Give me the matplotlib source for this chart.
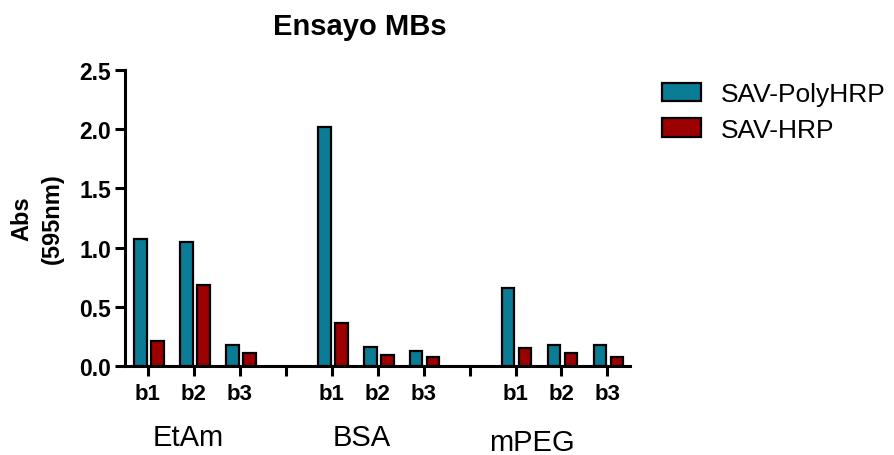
import numpy as np
import matplotlib
matplotlib.use("Agg")
import matplotlib.pyplot as plt

plt.rcParams["font.family"] = ["Liberation Sans", "DejaVu Sans"]

# data
groups = ["EtAm", "BSA", "mPEG"]
subs = ["b1", "b2", "b3"]
series_names = ["SAV-PolyHRP", "SAV-HRP"]
poly_hrp = [1.07, 1.05, 0.18, 2.02, 0.16, 0.13, 0.66, 0.18, 0.18]
sav_hrp = [0.21, 0.68, 0.11, 0.36, 0.09, 0.08, 0.15, 0.11, 0.08]

teal = "#0b7c96"
red = "#9c0000"

# x positions: 3 bars per group, one empty slot between groups
x = np.array([g * 4 + i for g in range(len(groups)) for i in range(len(subs))])

fig = plt.figure(figsize=(8.95, 4.56), dpi=100)
ax = fig.add_axes([0.1397, 0.1952, 0.5646, 0.6491])

w = 0.27
ax.bar(x - 0.16, poly_hrp, width=w, color=teal, edgecolor="black",
       linewidth=1.6, label=series_names[0], zorder=2)
ax.bar(x + 0.21, sav_hrp, width=w, color=red, edgecolor="black",
       linewidth=1.6, label=series_names[1], zorder=2)

ax.set_xlim(-0.5, 10.5)
ax.set_ylim(0, 2.5)
ax.set_yticks([0, 0.5, 1.0, 1.5, 2.0, 2.5])
ax.set_yticklabels(["0.0", "0.5", "1.0", "1.5", "2.0", "2.5"],
                   fontsize=16.5, fontweight="bold")

ticks = np.arange(0, 11)
labels = []
for t in ticks:
    labels.append("" if t % 4 == 3 else subs[t % 4])
ax.set_xticks(ticks)
ax.set_xticklabels(labels, fontsize=16, fontweight="bold")

for s in ["top", "right"]:
    ax.spines[s].set_visible(False)
for s in ["left", "bottom"]:
    ax.spines[s].set_linewidth(2.2)
ax.tick_params(axis="both", length=7, width=2.2, direction="out", pad=3)
ax.tick_params(axis="x", pad=5)

ax.set_ylabel("Abs\n(595nm)", fontsize=17, fontweight="bold", labelpad=11,
              linespacing=1.4)

# group labels under the tick labels
group_x = [0.87, 4.65, 8.35]
group_y = [-0.6, -0.6, -0.64]
for gx, gy, name in zip(group_x, group_y, groups):
    ax.text(gx, gy, name, fontsize=21, ha="center", va="center",
            transform=ax.transData, clip_on=False)

fig.text(0.402, 0.940, "Ensayo MBs", fontsize=21, fontweight="bold",
         ha="center", va="center")

ax.legend(loc="upper left", bbox_to_anchor=(0.740, 0.818),
          bbox_transform=fig.transFigure, frameon=False, fontsize=19,
          handlelength=1.45, handleheight=0.7, handletextpad=0.75,
          labelspacing=0.45, borderpad=0, borderaxespad=0)

fig.savefig("out.png", dpi=100)
